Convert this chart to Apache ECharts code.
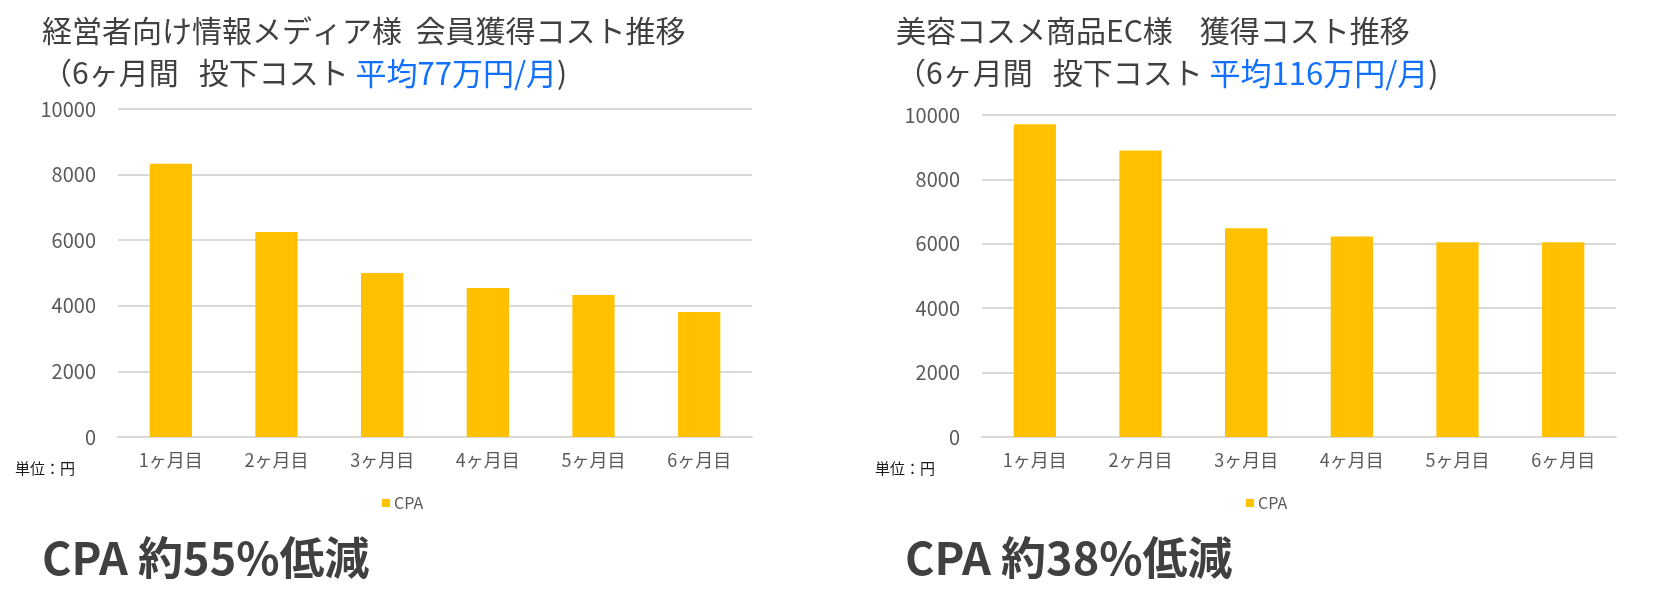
<!DOCTYPE html>
<html>
<head>
<meta charset="utf-8">
<script src="https://cdn.jsdelivr.net/npm/echarts@6/dist/echarts.min.js"></script>
<style>
html,body{margin:0;padding:0;background:#fff;}
#chart{width:1666px;height:608px;}
</style>
</head>
<body>
<div id="chart"></div>
<script>
// ---- data ----
const categories = ['1ヶ月目', '2ヶ月目', '3ヶ月目', '4ヶ月目', '5ヶ月目', '6ヶ月目'];
const mediaCpa = [8330, 6250, 5000, 4540, 4330, 3810];
const cosmeCpa = [9710, 8900, 6480, 6230, 6050, 6050];
const seriesName = 'CPA';
const leftTitle = ['経営者向け情報メディア様  会員獲得コスト推移', '（6ヶ月間   投下コスト ', '平均77万円/月', ')'];
const rightTitle = ['美容コスメ商品EC様    獲得コスト推移', '（6ヶ月間   投下コスト ', '平均116万円/月', ')'];
const leftResult = 'CPA 約55%低減';
const rightResult = 'CPA 約38%低減';
const unitLabel = '単位：円';
const yMin = 0, yMax = 10000, yInterval = 2000;

const FONT = "'Noto Sans CJK JP', 'Noto Sans', sans-serif";
const BAR = '#FFC000';
const GRIDC = '#D9D9D9';
const TXT = '#595959';
const DARK = '#404040';
const BLUE = '#1170FF';

const chart = echarts.init(document.getElementById('chart'), null, {renderer: 'canvas'});

function titleBlock(parts, left) {
  return {
    left: left, top: 10, padding: 0,
    text: parts[0] + '\n' + parts[1] + '{b|' + parts[2] + '}' + parts[3],
    textStyle: {
      fontFamily: FONT, fontSize: 30, fontWeight: 'normal', color: DARK, lineHeight: 42,
      rich: { b: { color: BLUE, fontFamily: FONT, fontSize: 31, lineHeight: 42 } }
    }
  };
}
function resultBlock(text, left) {
  return {
    left: left, top: 532, padding: 0, text: text,
    textStyle: { fontFamily: FONT, fontSize: 45, fontWeight: 'bold', color: DARK, lineHeight: 52 }
  };
}
function unitBlock(left) {
  return {
    left: left, top: 459, padding: 0, text: unitLabel,
    textStyle: { fontFamily: FONT, fontSize: 15, fontWeight: 'normal', color: '#1a1a1a', lineHeight: 18 }
  };
}
function xAxisDef(idx) {
  return {
    type: 'category', gridIndex: idx, data: categories,
    axisLine: { show: true, lineStyle: { color: GRIDC, width: 2 } },
    axisTick: { show: false },
    axisLabel: { color: TXT, fontFamily: FONT, fontSize: 18, margin: 14 }
  };
}
function yAxisDef(idx) {
  return {
    type: 'value', gridIndex: idx, min: yMin, max: yMax, interval: yInterval,
    axisLine: { show: false }, axisTick: { show: false },
    splitLine: { show: true, lineStyle: { color: GRIDC, width: 2 } },
    axisLabel: { color: TXT, fontFamily: FONT, fontSize: 20, margin: 22,
      formatter: function (v) { return String(v); } }
  };
}
function legendDef(left) {
  return {
    left: left, top: 495, padding: 0, itemWidth: 8, itemHeight: 8, itemGap: 5,
    icon: 'rect', data: [seriesName],
    textStyle: { color: TXT, fontFamily: FONT, fontSize: 16, padding: [0, 0, 0, -1] }
  };
}

chart.setOption({
  backgroundColor: '#fff',
  animation: false,
  title: [
    titleBlock(leftTitle, 42),
    titleBlock(rightTitle, 896),
    resultBlock(leftResult, 42),
    resultBlock(rightResult, 905),
    unitBlock(15),
    unitBlock(875)
  ],
  legend: [legendDef(382), legendDef(1246)],
  grid: [
    { left: 118, right: 914, top: 109, bottom: 171 },
    { left: 982, right: 50, top: 115, bottom: 171 }
  ],
  xAxis: [xAxisDef(0), xAxisDef(1)],
  yAxis: [yAxisDef(0), yAxisDef(1)],
  series: [
    { name: seriesName, type: 'bar', xAxisIndex: 0, yAxisIndex: 0, data: mediaCpa,
      barCategoryGap: '60%', itemStyle: { color: BAR } },
    { name: seriesName, type: 'bar', xAxisIndex: 1, yAxisIndex: 1, data: cosmeCpa,
      barCategoryGap: '60%', itemStyle: { color: BAR } }
  ]
});
</script>
</body>
</html>
